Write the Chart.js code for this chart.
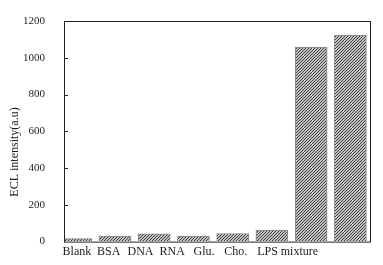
<!DOCTYPE html>
<html>
<head>
<meta charset="utf-8">
<script src="https://cdn.jsdelivr.net/npm/chart.js@4"></script>
<style>
  html, body { margin: 0; padding: 0; background: #fff; }
  #wrap { width: 383px; height: 265px; }
</style>
</head>
<body>
<div id="wrap"><canvas id="eclChart"></canvas></div>
<script>
// ---------- data ----------
const categories = ["Blank", "BSA", "DNA", "RNA", "Glu.", "Cho.", "LPS", "mixture"];
const eclValues = [16, 30, 42, 30, 44, 62, 1058, 1122];
const yTicks = [0, 200, 400, 600, 800, 1000, 1200];

const serif = '"Liberation Serif", "Times New Roman", Times, serif';

// hatch fill "////"
function hatch() {
  const c = document.createElement("canvas");
  c.width = 3;
  c.height = 3;
  const g = c.getContext("2d");
  g.fillStyle = "#fff";
  g.fillRect(0, 0, 3, 3);
  g.strokeStyle = "#333";
  g.lineWidth = 1.1;
  g.beginPath();
  g.moveTo(-1, 4); g.lineTo(4, -1);
  g.moveTo(-1, 1); g.lineTo(1, -1);
  g.moveTo(2, 4); g.lineTo(4, 2);
  g.stroke();
  return g.createPattern(c, "repeat");
}

const eclCanvas = document.getElementById("eclChart");
const pattern = hatch();

// frame + inner ticks on the y axis + y title
const frame = {
  id: "frame",
  afterDraw(chart) {
    const { ctx, chartArea: a, scales } = chart;
    ctx.save();
    ctx.strokeStyle = "#222";
    ctx.lineWidth = 1;
    ctx.strokeRect(a.left + 0.5, a.top + 0.5, a.right - a.left, a.bottom - a.top);
    yTicks.forEach((t) => {
      if (t === 0 || t === 1200) return;
      const y = Math.round(scales.y.getPixelForValue(t)) + 0.5;
      ctx.beginPath();
      ctx.moveTo(a.left, y);
      ctx.lineTo(a.left + 4, y);
      ctx.stroke();
    });
    ctx.fillStyle = "#222";
    ctx.font = "12px " + serif;
    ctx.textAlign = "center";
    ctx.textBaseline = "middle";
    ctx.translate(15, 152);
    ctx.rotate(-Math.PI / 2);
    ctx.fillText("ECL intensity(a.u)", 0, 0);
    ctx.restore();
  },
};

new Chart(eclCanvas, {
  type: "bar",
  data: {
    datasets: [
      {
        data: eclValues.map((v, i) => ({ x: i, y: v })),
        backgroundColor: pattern,
        borderColor: "#8a8a8a",
        borderWidth: 1,
        borderSkipped: "bottom",
        barThickness: 32,
      },
    ],
  },
  options: {
    responsive: true,
    maintainAspectRatio: false,
    animation: false,
    layout: { padding: { left: 0, right: 13, top: 21, bottom: 3 } },
    plugins: { legend: { display: false }, tooltip: { enabled: false } },
    scales: {
      x: {
        type: "linear",
        min: -0.3,
        max: 7.5,
        offset: false,
        grid: { display: false, drawTicks: false },
        border: { display: false },
        afterBuildTicks: (axis) => {
          axis.ticks = categories.map((_, i) => ({ value: 0.03 + i * 0.81 }));
        },
        ticks: {
          autoSkip: false,
          maxRotation: 0,
          padding: 3,
          color: "#222",
          font: { family: serif, size: 12 },
          callback: (v, i) => categories[i],
        },
      },
      y: {
        min: 0,
        max: 1200,
        afterBuildTicks: (axis) => {
          axis.ticks = yTicks.map((v) => ({ value: v }));
        },
        afterFit: (axis) => {
          axis.width = 64;
        },
        // invisible tick marks only push the labels away from the axis
        grid: {
          drawOnChartArea: false,
          drawTicks: true,
          tickLength: 16,
          color: "rgba(0,0,0,0)",
        },
        border: { display: false },
        ticks: {
          padding: 3,
          color: "#222",
          font: { family: serif, size: 11 },
          callback: (v) => String(v),
        },
      },
    },
  },
  plugins: [frame],
});
</script>
</body>
</html>
